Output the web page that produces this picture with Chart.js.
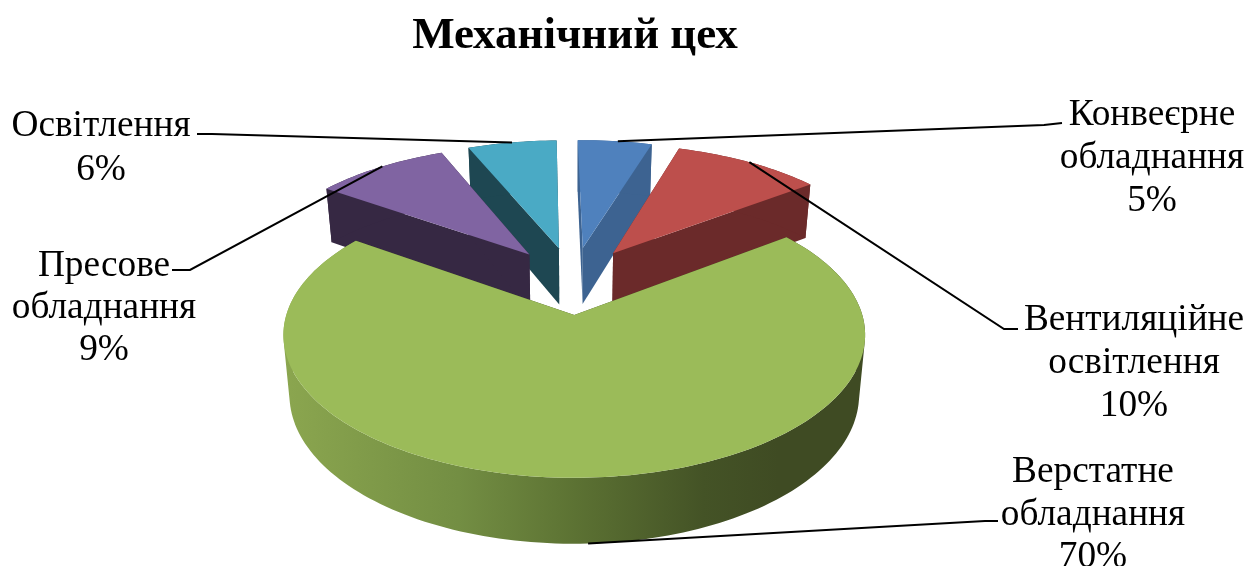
<!DOCTYPE html>
<html lang="uk">
<head>
<meta charset="utf-8">
<style>html,body{margin:0;padding:0;background:#fff}canvas{display:block}</style>
<script src="https://cdn.jsdelivr.net/npm/chart.js@4"></script>
</head>
<body>
<canvas id="c" width="1247" height="566"></canvas>
<script>
const chartTitle = 'Механічний цех';
const categories = ['Конвеєрне обладнання', 'Вентиляційне освітлення', 'Верстатне обладнання', 'Пресове обладнання', 'Освітлення'];
const shares = [5, 10, 70, 9, 6];

const topColors = ['#4f81bd', '#bd4f4c', '#9bbb59', '#8064a2', '#4aaac5'];
const wallColors = ['#3d6391', '#6b2a2a', '#3f4c22', '#362843', '#1e4752'];

// Camera used to lay the flat pie down in 3D, and the label placement
const cam = { x: 575, y: 315, a: 288, b: 140, k: 0.14, xBase: 282, yBase: 374, bBase: 146, explode: 0.258, shiftU: -0.007 };
const labelLayout = [
  { cx: 1152, ys: [115, 158, 201], elbow: [1044, 125], end: [1062, 123], anchor: 0.5 },
  { cx: 1134, ys: [320, 363, 406], elbow: [1004, 329], end: [1018, 329], anchor: 0.5 },
  { cx: 1093, ys: [472, 515, 557], elbow: [985, 521], end: [998, 521], anchor: 0.492, base: true },
  { cx: 104,  ys: [266, 308, 350], elbow: [190, 270], end: [172, 270], anchor: 0.5 },
  { cx: 101,  ys: [126, 170],      elbow: [212, 134], end: [197, 134], anchor: 0.5 }
];
const labelFont = '37.3px "Liberation Serif"';

function project(U, V, base) {
  const w = 1 - cam.k * V, t = V / w;
  return base
    ? [cam.x + cam.xBase * U / w, cam.yBase + cam.bBase * t]
    : [cam.x + cam.a * U / w, cam.y + cam.b * t];
}
function slicePts(arc, base) {
  const mid = (arc.startAngle + arc.endAngle) / 2;
  const ox = cam.explode * Math.cos(mid) + cam.shiftU, oy = cam.explode * Math.sin(mid) - cam.explode;
  const pts = [], n = Math.max(8, Math.ceil((arc.endAngle - arc.startAngle) * 40));
  for (let i = 0; i <= n; i++) {
    const a = arc.startAngle + (arc.endAngle - arc.startAngle) * i / n;
    pts.push(project(ox + Math.cos(a), oy + Math.sin(a), base));
  }
  return { rim: pts, apex: project(ox, oy, base) };
}
function poly(ctx, pts, fill) {
  ctx.beginPath();
  pts.forEach((p, i) => i ? ctx.lineTo(p[0], p[1]) : ctx.moveTo(p[0], p[1]));
  ctx.closePath();
  ctx.fillStyle = fill;
  ctx.fill();
}
// The curved outer wall: one path of equally wound quads, so it fills without seams
function wall(ctx, top, bot, fill) {
  ctx.beginPath();
  for (let s = 0; s < top.length - 1; s++) {
    let q = [top[s], top[s + 1], bot[s + 1], bot[s]];
    let area = 0;
    q.forEach((p, i) => { const r = q[(i + 1) % 4]; area += p[0] * r[1] - r[0] * p[1]; });
    if (area < 0) q = q.reverse();
    q.forEach((p, i) => i ? ctx.lineTo(p[0], p[1]) : ctx.moveTo(p[0], p[1]));
    ctx.closePath();
  }
  ctx.fillStyle = fill;
  ctx.fill('nonzero');
}

const pie3d = {
  id: 'pie3d',
  beforeDatasetsDraw(chart) {
    const ctx = chart.ctx, arcs = chart.getDatasetMeta(0).data;
    const order = arcs.map((a, i) => i).sort((p, q) =>
      Math.sin((arcs[p].startAngle + arcs[p].endAngle) / 2) - Math.sin((arcs[q].startAngle + arcs[q].endAngle) / 2));
    ctx.save();
    const grad = ctx.createLinearGradient(284, 0, 866, 0);
    grad.addColorStop(0, '#8ba64f');
    grad.addColorStop(0.3, '#738e43');
    grad.addColorStop(0.5, '#5c7233');
    grad.addColorStop(0.72, '#445326');
    grad.addColorStop(0.85, '#3f4b23');
    grad.addColorStop(1, '#3f4b23');
    order.forEach(i => {
      const t = slicePts(arcs[i], false), b = slicePts(arcs[i], true);
      poly(ctx, [t.apex, t.rim[0], b.rim[0], b.apex], wallColors[i]);
      poly(ctx, [t.apex, t.rim[t.rim.length - 1], b.rim[b.rim.length - 1], b.apex], wallColors[i]);
      wall(ctx, t.rim, b.rim, i === 2 ? grad : wallColors[i]);
      poly(ctx, [t.apex].concat(t.rim), topColors[i]);
    });
    // leader lines and labels
    ctx.strokeStyle = '#000';
    ctx.lineWidth = 2;
    ctx.lineCap = 'butt';
    ctx.font = labelFont;
    ctx.textAlign = 'center';
    ctx.textBaseline = 'middle';
    ctx.fillStyle = '#000';
    arcs.forEach((arc, i) => {
      const L = labelLayout[i];
      const s = slicePts(arc, !!L.base), m = s.rim[Math.floor(s.rim.length * L.anchor)];
      ctx.beginPath();
      ctx.moveTo(m[0], m[1]);
      ctx.lineTo(L.elbow[0], L.elbow[1]);
      ctx.lineTo(L.end[0], L.end[1]);
      ctx.stroke();
      categories[i].split(' ').concat(shares[i] + '%').forEach((line, j) => {
        ctx.fillText(line, L.cx, L.ys[j]);
      });
    });
    ctx.restore();
    return false;
  }
};

new Chart(document.getElementById('c'), {
  type: 'pie',
  data: { labels: categories, datasets: [{ data: shares, backgroundColor: topColors, borderWidth: 0 }] },
  plugins: [pie3d],
  options: {
    responsive: false,
    animation: false,
    rotation: -1,
    layout: { padding: { right: 97 } },
    plugins: {
      legend: { display: false },
      tooltip: { enabled: false },
      title: {
        display: true, text: chartTitle, fullSize: false, color: '#000',
        font: { family: '"Liberation Serif"', size: 45, weight: 'bold' },
        padding: { top: 9, bottom: 0 }
      }
    }
  }
});
</script>
</body>
</html>
